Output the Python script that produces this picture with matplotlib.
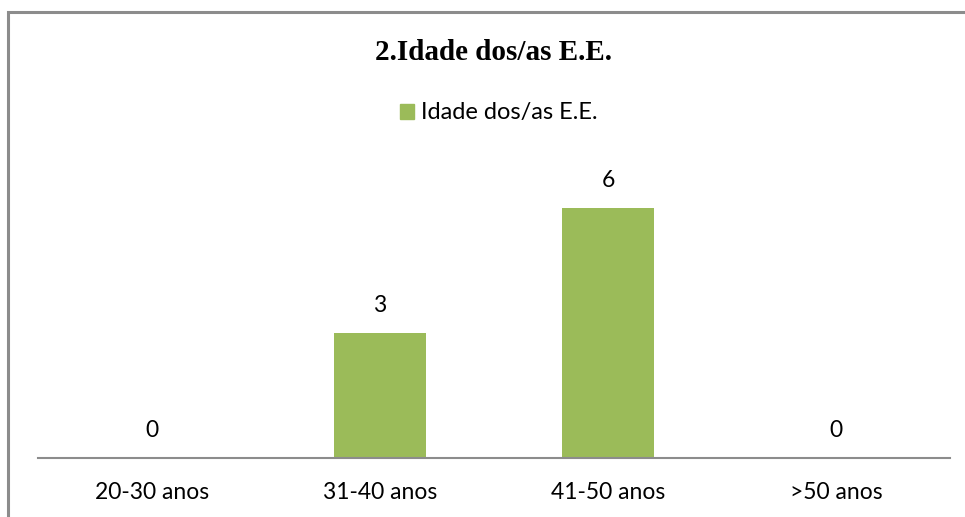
import matplotlib.pyplot as plt
from matplotlib.patches import Rectangle, Patch

categorias = ['20-30 anos', '31-40 anos', '41-50 anos', '>50 anos']
valores = [0, 3, 6, 0]
serie = 'Idade dos/as E.E.'
titulo = '2.Idade dos/as E.E.'

verde = '#9BBB59'
W, H = 965, 517

fig = plt.figure(figsize=(W / 100, H / 100), dpi=100)
# borda do grafico (cortada a direita e em baixo)
fig.patches.append(Rectangle((8 / W, -0.1), 1.1, 1.1 - 12 / H, transform=fig.transFigure,
                             fill=False, edgecolor='#8c8c8c', linewidth=2.2))

ax = fig.add_axes([38 / W, (H - 458) / H, (950 - 38) / W, (458 - 166) / H])
x = range(len(categorias))
ax.bar(x, valores, width=0.4, color=verde)
ax.set_xlim(-0.5, len(categorias) - 0.5)
ax.set_ylim(0, 7)

for i, v in zip(x, valores):
    ax.annotate(str(v), (i, v), xytext=(0, 12), textcoords='offset points',
                ha='center', va='bottom', fontsize=16.5, family='Lato')

for s in ['top', 'right', 'left']:
    ax.spines[s].set_visible(False)
ax.spines['bottom'].set_color('#8c8c8c')
ax.spines['bottom'].set_linewidth(1.5)
ax.set_yticks([])
ax.set_xticks(list(x))
ax.set_xticklabels(categorias, fontsize=16.5, family='Lato')
ax.tick_params(axis='x', length=0, pad=17)

fig.text(0.511, (H - 53) / H, titulo, ha='center', va='center', fontsize=21,
         fontweight='bold', family='Liberation Serif')
fig.legend(handles=[Patch(color=verde, label=serie)], loc='center',
           bbox_to_anchor=(0.517, (H - 113) / H), frameon=False,
           handlelength=0.6, handleheight=0.6, handletextpad=0.3,
           prop={'family': 'Lato', 'size': 17})

fig.savefig('out.png', dpi=100)
